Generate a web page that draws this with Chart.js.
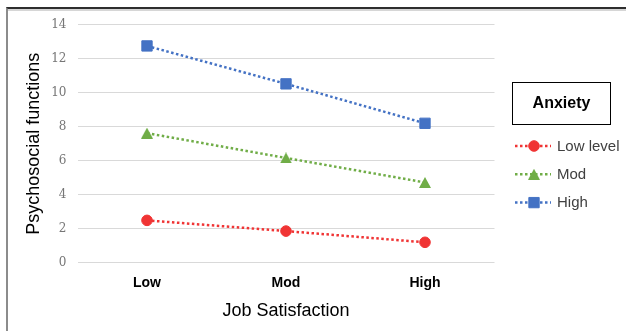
<!DOCTYPE html>
<html>
<head>
<meta charset="utf-8">
<script src="https://cdn.jsdelivr.net/npm/chart.js@4"></script>
<style>
  html, body { margin: 0; padding: 0; background: #fff; }
  #wrap { position: relative; width: 626px; height: 331px; overflow: hidden; }
  canvas { position: absolute; left: 0; top: 0; }
  #frame {
    position: absolute; left: 6px; top: 7px; width: 660px; height: 360px;
    border-top: 2px solid #2e2e2e; border-left: 2px solid #8c8c8c;
    box-shadow: inset 0 2px 0 #d6d6d6; pointer-events: none;
  }
</style>
</head>
<body>
<div id="wrap">
  <canvas id="c" width="626" height="331"></canvas>
  <div id="frame"></div>
</div>
<script>
// Job satisfaction categories and psychosocial function scores per anxiety level
const categories = ['Low', 'Mod', 'High'];
const seriesNames = ['Low level', 'Mod', 'High'];
const lowAnxiety = [2.49, 1.86, 1.2];
const modAnxiety = [7.62, 6.16, 4.72];
const highAnxiety = [12.75, 10.52, 8.2];
const yTicks = [0, 2, 4, 6, 8, 10, 12, 14];
const legendTitle = 'Anxiety';
const xTitle = 'Job Satisfaction';
const yTitle = 'Psychosocial functions';

const RED = '#f03434';
const GREEN = '#70ad47';
const BLUE = '#4472c4';

// Triangle marker centred on its bounding box
function triangleMarker(color, w, h) {
  const c = document.createElement('canvas');
  c.width = w; c.height = h;
  const g = c.getContext('2d');
  g.fillStyle = color;
  g.beginPath();
  g.moveTo(w / 2, 0);
  g.lineTo(w, h);
  g.lineTo(0, h);
  g.closePath();
  g.fill();
  return c;
}
const triangle = triangleMarker(GREEN, 12, 11);

function series(label, data, color, style, radius) {
  return {
    label, data,
    borderColor: color,
    backgroundColor: color,
    pointBackgroundColor: color,
    pointBorderColor: color,
    borderWidth: 2.5,
    borderDash: [2.5, 2.5],
    pointStyle: style,
    pointRadius: radius,
    pointBorderWidth: 1,
    tension: 0,
    fill: false
  };
}

const legendPlugin = {
  id: 'anxietyLegend',
  afterDraw(chart) {
    const ctx = chart.ctx;
    ctx.save();
    ctx.strokeStyle = '#000';
    ctx.lineWidth = 1;
    ctx.strokeRect(512.5, 82.5, 98, 42);
    ctx.font = 'bold 16px "Liberation Sans", Arial, sans-serif';
    ctx.fillStyle = '#000';
    ctx.textAlign = 'center';
    ctx.textBaseline = 'middle';
    ctx.fillText(legendTitle, 561.5, 104);

    chart.data.datasets.forEach((ds, i) => {
      const y = 146 + i * 28.3;
      ctx.setLineDash([2.5, 2.5]);
      ctx.lineWidth = 2.5;
      ctx.strokeStyle = ds.borderColor;
      ctx.beginPath();
      ctx.moveTo(515, y);
      ctx.lineTo(551, y);
      ctx.stroke();
      ctx.setLineDash([]);
      ctx.fillStyle = ds.pointBackgroundColor;
      ctx.strokeStyle = ds.pointBorderColor;
      ctx.lineWidth = 1;
      Chart.helpers.drawPoint(ctx, {
        pointStyle: ds.pointStyle, radius: ds.pointRadius, borderWidth: ds.pointBorderWidth, rotation: 0
      }, 534, y);
      ctx.font = '15px "Liberation Sans", Arial, sans-serif';
      ctx.fillStyle = '#404040';
      ctx.textAlign = 'left';
      ctx.fillText(ds.label, 557, y + 0.5);
    });
    ctx.restore();
  }
};

new Chart(document.getElementById('c'), {
  type: 'line',
  data: {
    labels: categories,
    datasets: [
      series(seriesNames[0], lowAnxiety, RED, 'circle', 5.3),
      series(seriesNames[1], modAnxiety, GREEN, triangle, 6),
      series(seriesNames[2], highAnxiety, BLUE, 'rect', 7.3)
    ]
  },
  options: {
    responsive: false,
    animation: false,
    devicePixelRatio: 1,
    layout: { padding: { left: 0, right: 131.5, top: 24.7, bottom: 0 } },
    plugins: { legend: { display: false }, tooltip: { enabled: false } },
    scales: {
      x: {
        offset: true,
        grid: { display: false, drawTicks: false },
        border: { display: false },
        ticks: {
          padding: 12,
          color: '#000',
          font: { family: '"Liberation Sans", Arial, sans-serif', size: 14, weight: 'bold' }
        },
        title: {
          display: true, text: xTitle, color: '#000',
          font: { family: '"Liberation Sans", Arial, sans-serif', size: 18 },
          padding: { top: 0, bottom: 9 }
        },
        afterFit(scale) { scale.height = 68.3; }
      },
      y: {
        min: yTicks[0],
        max: yTicks[yTicks.length - 1],
        grid: { color: '#d9d9d9', lineWidth: 1, drawTicks: false },
        border: { display: false },
        ticks: {
          stepSize: yTicks[1] - yTicks[0],
          padding: 11,
          color: '#767676',
          font: { family: '"DejaVu Serif", serif', size: 12 }
        },
        title: {
          display: true, text: yTitle, color: '#000',
          font: { family: '"Liberation Sans", Arial, sans-serif', size: 18 },
          padding: { top: 23, bottom: 0 }
        },
        afterFit(scale) { scale.width = 77.5; }
      }
    }
  },
  plugins: [legendPlugin]
});
</script>
</body>
</html>
